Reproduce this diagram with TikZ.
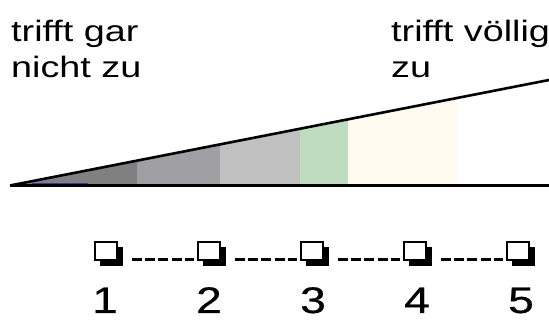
\documentclass[tikz,border=0pt]{standalone}
\usepackage{fontspec}
\setmainfont{Liberation Sans}
\newfontfamily\labfont[FakeStretch=1.28]{Liberation Sans}
\newfontfamily\numfont[FakeStretch=1.25,FakeBold=0.5]{Liberation Sans}
\usetikzlibrary{shadows}
\definecolor{bandA}{HTML}{808080}
\definecolor{bandB}{HTML}{A0A0A4}
\definecolor{bandC}{HTML}{C0C0C0}
\definecolor{bandD}{HTML}{C0DCC0}
\definecolor{bandE}{HTML}{FFFBF0}
\definecolor{navyline}{HTML}{3A3A8A}
\begin{document}
\begin{tikzpicture}[x=1pt,y=1pt,
  lab/.style={font=\labfont\fontsize{29.5}{36}\selectfont, inner sep=0pt, anchor=base west},
  num/.style={font=\numfont\fontsize{37}{40}\selectfont, inner sep=0pt, anchor=base},
  cbox/.style={draw=black, line width=2.4pt, fill=white, minimum width=22.5pt, minimum height=18.5pt, inner sep=0pt,
    drop shadow={shadow xshift=5.5pt, shadow yshift=-5.5pt, fill=black, opacity=1}},
  dashline/.style={line width=2.4pt, dash pattern=on 10pt off 3.25pt, shorten <=13.5pt, shorten >=3pt}
]
\useasboundingbox (0,0) rectangle (549,320);
\def\yl#1{134.5+(#1-12)*0.19646}
% bands
\foreach \xa/\xb/\col in {12/137/bandA,137/220/bandB,220/300/bandC,300/348/bandD,348/457/bandE}{
  \fill[\col] (\xa,134.5) -- (\xa,{\yl{\xa}}) -- (\xb,{\yl{\xb}}) -- (\xb,134.5) -- cycle;
}
\draw[navyline, line width=1pt] (32,136.2) -- (88,136.2);
% axes
\coordinate (tip) at (10,134.5);
\coordinate (bend) at (549,134.5);
\coordinate (send) at (549,240);
\draw[line width=2.7pt] (tip) -- (bend);
\draw[line width=2.6pt] (tip) -- (send);
% labels
\node[lab] (l1) at (11,278) {trifft gar};
\node[lab] (l2) at (11,242) {nicht zu};
\node[lab] (r1) at (391,278) {trifft völlig};
\node[lab] (r2) at (391,242) {zu};
% boxes
\foreach \i/\x in {1/106,2/209,3/312,4/415,5/518}{
  \node[cbox] (b\i) at (\x,69) {};
}
\foreach \i/\j in {1/2,2/3,3/4,4/5}{
  \draw[dashline] ([yshift=-8.5pt]b\i.east) -- ([yshift=-8.5pt]b\j.west);
}
% numbers
\foreach \i/\x in {1/105,2/209,3/313,4/417,5/521}{
  \node[num] (n\i) at (\x,7) {\i};
}
\end{tikzpicture}
\end{document}
